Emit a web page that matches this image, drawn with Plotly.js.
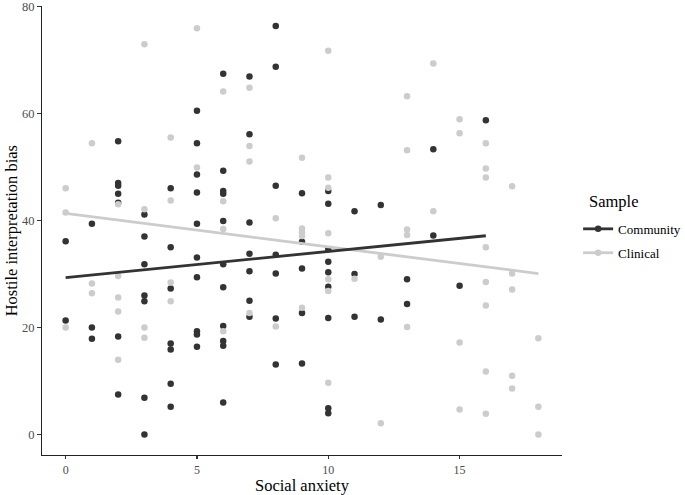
<!DOCTYPE html>
<html>
<head>
<meta charset="utf-8">
<script src="https://cdn.plot.ly/plotly-3.0.1.min.js"></script>
<style>html,body{margin:0;padding:0;background:#fff;}#chart{width:685px;height:495px;}</style>
</head>
<body>
<div id="chart"></div>
<script>
// Community sample: social anxiety (x) and hostile interpretation bias (y)
var communityX = [0,0,1,1,1,2,2,2,2,2,2,2,3,3,3,3,3,3,3,4,4,4,4,4,4,4,5,5,5,5,5,5,5,5,5,5,6,6,6,6,6,6,6,6,6,6,6,7,7,7,7,7,7,7,8,8,8,8,8,8,8,9,9,9,9,9,10,10,10,10,10,10,10,10,10,11,11,11,12,12,13,13,14,14,15,16];
var communityY = [36.1,21.3,39.4,20.0,17.9,54.8,47.0,46.5,45.0,43.3,18.3,7.5,41.1,37.0,31.8,26.0,24.9,6.9,0.0,46.0,35.0,27.3,17.0,15.9,9.5,5.2,60.5,54.4,48.6,45.2,39.4,33.1,29.4,19.3,18.7,16.4,67.4,49.3,45.5,45.0,39.9,31.8,27.5,20.3,17.5,16.6,6.0,66.9,56.1,39.6,33.8,30.5,25.0,22.0,76.3,68.7,46.5,33.6,30.1,21.7,13.1,45.1,36.0,31.0,22.7,13.3,45.5,43.1,34.6,32.3,30.3,27.6,21.8,4.9,4.0,41.7,30.0,22.0,42.9,21.5,29.0,24.4,53.3,37.2,27.8,58.7];
// Clinical sample
var clinicalX = [0,0,0,1,1,1,2,2,2,2,2,3,3,3,3,4,4,4,4,5,5,6,6,6,6,7,7,7,7,8,8,9,9,9,9,9,10,10,10,10,10,10,10,11,12,12,13,13,13,13,13,14,14,15,15,15,15,16,16,16,16,16,16,16,16,17,17,17,17,17,18,18,18];
var clinicalY = [46.0,41.5,20.0,54.4,28.2,26.4,43.0,29.6,25.6,23.0,14.0,72.9,42.1,20.0,18.1,55.5,43.7,28.4,24.9,75.9,49.9,64.1,43.6,38.4,19.3,64.8,53.9,51.0,22.7,40.4,20.2,51.7,38.5,37.8,37.1,23.7,71.7,48.0,46.1,37.6,29.0,26.8,9.7,29.1,33.2,2.1,63.2,53.1,38.3,37.3,20.1,69.3,41.7,58.9,56.3,17.2,4.7,54.4,49.7,48.0,35.0,28.5,24.1,11.8,3.9,46.4,30.1,27.1,11.0,8.6,18.0,5.2,0.0];
var groupNames = ["Community", "Clinical"];
var xTicks = [0, 5, 10, 15];
var yTicks = [0, 20, 40, 60, 80];

var colDark = "#333333", colLight = "#cccccc";

function lmLine(xs, ys) {
  var n = xs.length, mx = 0, my = 0;
  for (var i = 0; i < n; i++) { mx += xs[i]; my += ys[i]; }
  mx /= n; my /= n;
  var sxy = 0, sxx = 0;
  for (var j = 0; j < n; j++) { sxy += (xs[j]-mx)*(ys[j]-my); sxx += (xs[j]-mx)*(xs[j]-mx); }
  var b = sxy / sxx, a = my - b*mx;
  var x0 = Math.min.apply(null, xs), x1 = Math.max.apply(null, xs);
  return {x: [x0, x1], y: [a + b*x0, a + b*x1]};
}
var lc = lmLine(communityX, communityY);
var lk = lmLine(clinicalX, clinicalY);

var serif = "Liberation Serif, Times New Roman, serif";
var traces = [
  {x: communityX, y: communityY, type: "scatter", mode: "markers", showlegend: false,
   marker: {color: colDark, size: 6.5}, hoverinfo: "x+y"},
  {x: clinicalX, y: clinicalY, type: "scatter", mode: "markers", showlegend: false,
   marker: {color: colLight, size: 6.5}, hoverinfo: "x+y"},
  {x: lk.x, y: lk.y, type: "scatter", mode: "lines", showlegend: false,
   line: {color: colLight, width: 2.8}},
  {x: lc.x, y: lc.y, type: "scatter", mode: "lines", showlegend: false,
   line: {color: colDark, width: 2.8}},
  {x: [null], y: [null], type: "scatter", mode: "lines+markers", name: groupNames[0], legendgroup: "g1",
   line: {color: colDark, width: 2.8}, marker: {color: colDark, size: 6.5}},
  {x: [null], y: [null], type: "scatter", mode: "lines+markers", name: groupNames[1], legendgroup: "g2",
   line: {color: colLight, width: 2.8}, marker: {color: colLight, size: 6.5}}
];

var layout = {
  width: 685, height: 495,
  margin: {l: 42, r: 123, t: 6, b: 40, autoexpand: false},
  paper_bgcolor: "#ffffff", plot_bgcolor: "#ffffff",
  font: {family: serif, color: "#000000"},
  xaxis: {
    range: [-0.9, 18.9], tickvals: xTicks, ticktext: xTicks.map(String),
    showgrid: false, zeroline: false, showline: true, linecolor: "#222222", linewidth: 1.4,
    ticks: "outside", ticklen: 3, tickwidth: 1.1, tickcolor: "#333333",
    tickfont: {family: serif, size: 12, color: "#4d4d4d"}, ticklabeloverflow: "allow"
  },
  yaxis: {
    range: [-3.81, 80.05], tickvals: yTicks, ticktext: yTicks.map(String),
    showgrid: false, zeroline: false, showline: true, linecolor: "#222222", linewidth: 1.4,
    ticks: "outside", ticklen: 3.5, tickwidth: 1.1, tickcolor: "#333333",
    tickfont: {family: serif, size: 12.5, color: "#4d4d4d"}, ticklabeloverflow: "allow"
  },
  annotations: [
    {text: "Social anxiety", xref: "paper", yref: "paper", x: 0.5, y: -0.0685,
     xanchor: "center", yanchor: "middle", showarrow: false,
     font: {family: serif, size: 16.5, color: "#000"}},
    {text: "Hostile interpretation bias", xref: "paper", yref: "paper", x: -0.058, y: 0.5,
     xanchor: "center", yanchor: "middle", showarrow: false, textangle: -90,
     font: {family: serif, size: 16.5, color: "#000"}},
    {text: "Sample", xref: "paper", yref: "paper", x: 1.048, y: 0.5635,
     xanchor: "left", yanchor: "middle", showarrow: false,
     font: {family: serif, size: 16.5, color: "#000"}}
  ],
  legend: {
    x: 1.031, xanchor: "left", y: 0.537, yanchor: "top",
    font: {family: serif, size: 13, color: "#000"},
    itemwidth: 30, tracegroupgap: 4, bgcolor: "rgba(0,0,0,0)"
  },
  showlegend: true
};

Plotly.newPlot("chart", traces, layout, {displayModeBar: false, staticPlot: true});
</script>
</body>
</html>
